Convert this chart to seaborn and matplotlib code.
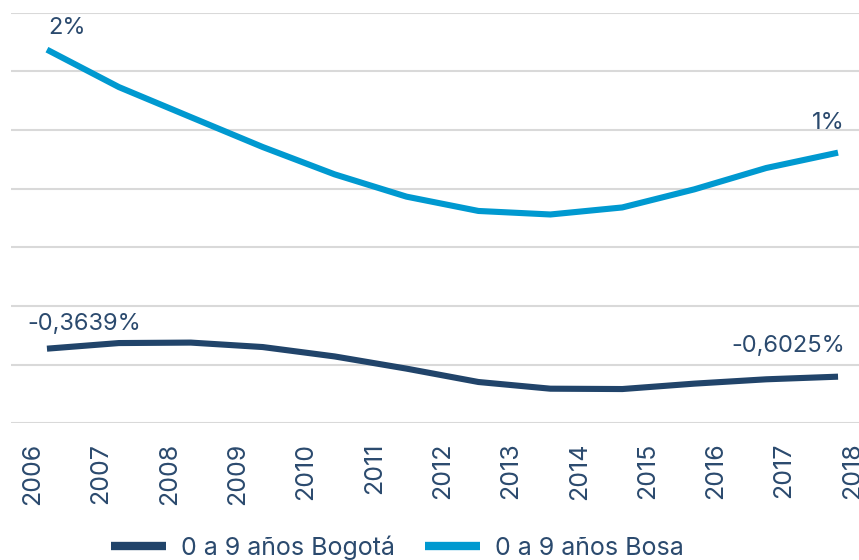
import numpy as np
import pandas as pd
import matplotlib
matplotlib.use("Agg")
import matplotlib.pyplot as plt
import seaborn as sns

# data (annual change, %)
years = [2006, 2007, 2008, 2009, 2010, 2011, 2012, 2013, 2014, 2015, 2016, 2017]
bogota = [-0.3639, -0.316, -0.312, -0.35, -0.43, -0.534, -0.648, -0.705, -0.708, -0.662, -0.625, -0.6025]
bosa = [2.185, 1.866, 1.61, 1.355, 1.122, 0.932, 0.81, 0.78, 0.84, 0.994, 1.176, 1.307]
tick_labels = ["2006", "2007", "2008", "2009", "2010", "2011", "2012",
               "2013", "2014", "2015", "2016", "2017", "2018"]
series_names = ["0 a 9 años Bogotá", "0 a 9 años Bosa"]
first_labels = ["-0,3639%", "2%"]
last_labels = ["-0,6025%", "1%"]

navy = "#21446a"
blue = "#0099d0"
text_color = "#2b4a6e"

sns.set_theme(style="white")
plt.rcParams["font.family"] = ["Inter", "DejaVu Sans"]

df = pd.DataFrame({
    "idx": list(range(len(years))) * 2,
    "value": bogota + bosa,
    "serie": [series_names[0]] * len(years) + [series_names[1]] * len(years),
})

fig = plt.figure(figsize=(8.59, 5.60), dpi=100)
ax = fig.add_axes([11 / 859, 1 - 423.3 / 560, 863 / 859, (423.3 - 12.7) / 560])

sns.lineplot(data=df, x="idx", y="value", hue="serie",
             palette=[navy, blue], linewidth=4.4, ax=ax, legend=True,
             solid_capstyle="butt")

ax.set_xlim(-0.5, len(years) - 0.5)
ax.set_ylim(-1.0, 2.5)
ax.set_yticks(np.arange(-1.0, 2.51, 0.5))
ax.set_yticklabels([])
ax.yaxis.grid(True, color="#d9d9d9", linewidth=1.5)
ax.xaxis.grid(False)
ax.tick_params(axis="y", length=0)
for s in ax.spines.values():
    s.set_visible(False)

ax.set_xticks(np.linspace(-0.2, 11.2, len(tick_labels)))
ax.set_xticklabels(tick_labels, rotation=90, fontsize=18, color=text_color)
ax.tick_params(axis="x", length=0, pad=14)
ax.set_xlabel("")
ax.set_ylabel("")

# data labels at first and last points
first = [bogota[0], bosa[0]]
last = [bogota[-1], bosa[-1]]
ax.annotate(first_labels[0], (0, first[0]), xytext=(-20, 14), textcoords="offset pixels",
            ha="left", va="bottom", fontsize=17, color=text_color)
ax.annotate(first_labels[1], (0, first[1]), xytext=(1, 11), textcoords="offset pixels",
            ha="left", va="bottom", fontsize=17, color=text_color)
ax.annotate(last_labels[0], (len(years) - 1, last[0]), xytext=(7, 20), textcoords="offset pixels",
            ha="right", va="bottom", fontsize=17, color=text_color)
ax.annotate(last_labels[1], (len(years) - 1, last[1]), xytext=(7, 19), textcoords="offset pixels",
            ha="right", va="bottom", fontsize=17, color=text_color)

handles, labels = ax.get_legend_handles_labels()
ax.get_legend().remove()
for h in handles:
    h.set_linewidth(6)
fig.legend(handles, labels, loc="center", bbox_to_anchor=(0.463, 0.022), ncol=2,
           frameon=False, fontsize=18, labelcolor=text_color,
           handlelength=2.2, handletextpad=0.6, columnspacing=1.2)

fig.savefig("out.png", dpi=100)
